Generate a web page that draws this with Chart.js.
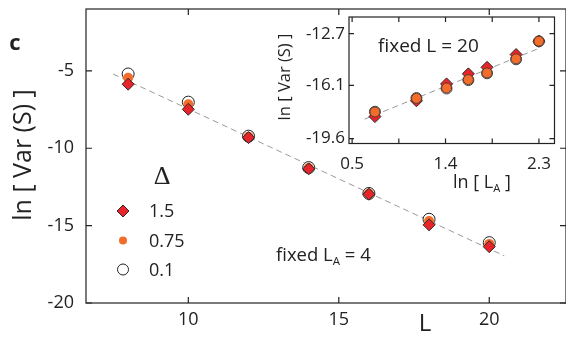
<!DOCTYPE html>
<html>
<head>
<meta charset="utf-8">
<script src="https://cdn.jsdelivr.net/npm/chart.js@4"></script>
<style>
  html, body { margin: 0; padding: 0; background: #fff; overflow: hidden; }
  #wrap { position: relative; width: 566px; height: 338px; overflow: hidden; }
  #mainChart { position: absolute; left: 0; top: 0; }
  #insetChart { position: absolute; left: 260px; top: 0; }
</style>
</head>
<body>
<div id="wrap">
  <canvas id="mainChart" width="580" height="338"></canvas>
  <canvas id="insetChart" width="306" height="200"></canvas>
</div>
<script>
// main panel: fixed L_A = 4
var deltas = ['1.5', '0.75', '0.1'];
var L = [8, 10, 12, 14, 16, 18, 20];
var var15 = [-5.86, -7.48, -9.31, -11.33, -12.97, -14.95, -16.36];
var var075 = [-5.45, -7.15, -9.25, -11.28, -12.93, -14.7, -16.18];
var var01 = [-5.2, -7.02, -9.22, -11.25, -12.92, -14.59, -16.1];
var fitL = [7.5, 20.5];
var fitVar = [-5.2, -16.95];
var xTicks = [10, 15, 20];
var yTicks = [-20, -15, -10, -5];

// inset: fixed L = 20
var lnLA = [0.72, 1.12, 1.41, 1.62, 1.8, 2.08, 2.3];
var inset15 = [-18.15, -17.11, -16.0, -15.34, -14.91, -14.07, -13.19];
var inset075 = [-17.85, -16.95, -16.27, -15.72, -15.28, -14.35, -13.19];
var inset01 = [-17.83, -16.93, -16.3, -15.75, -15.3, -14.38, -13.2];
var insetFitX = [0.62, 2.28];
var insetFitY = [-18.32, -13.72];
var insetXTicks = [0.5, 0.95, 1.4, 1.85, 2.3];
var insetXLabels = ['0.5', '', '1.4', '', '2.3'];
var insetYTicks = [-19.6, -16.1, -12.7];

var FONT = '"Open Sans", "Noto Sans", sans-serif';
var INK = '#222';
var RED = '#e8242a';
var ORANGE = '#f26d2b';

function pts(xs, ys) {
    return xs.map(function (x, i) { return { x: x, y: ys[i] }; });
}

function setTicks(values) {
    return function (scale) {
        scale.ticks = values.map(function (v) { return { value: v }; });
    };
}

// fixed axis size, and no extra room asked for hanging labels
function fixSize(w, h) {
    return function (s) {
        if (w) s.width = w;
        if (h) s.height = h;
        s.paddingTop = 0; s.paddingBottom = 0;
        s.paddingLeft = 0; s.paddingRight = 0;
    };
}

// box round the plot area, with short ticks pointing inwards on all four sides
function framePlugin(tickLen) {
    return {
        id: 'frame',
        beforeDraw: function (chart) {
            if (!chart.options.fillArea) return;
            var a = chart.chartArea, ctx = chart.ctx;
            ctx.save();
            ctx.fillStyle = '#fff';
            ctx.fillRect(a.left, a.top, a.right - a.left, a.bottom - a.top);
            ctx.restore();
        },
        beforeDatasetsDraw: function (chart) {
            var a = chart.chartArea, ctx = chart.ctx;
            var xs = chart.scales.x, ys = chart.scales.y;
            ctx.save();
            ctx.strokeStyle = INK;
            ctx.lineWidth = 1.2;
            ctx.strokeRect(a.left, a.top, a.right - a.left, a.bottom - a.top);
            ctx.beginPath();
            xs.ticks.forEach(function (t) {
                var px = xs.getPixelForValue(t.value);
                ctx.moveTo(px, a.bottom); ctx.lineTo(px, a.bottom - tickLen);
                ctx.moveTo(px, a.top); ctx.lineTo(px, a.top + tickLen);
            });
            ys.ticks.forEach(function (t) {
                var py = ys.getPixelForValue(t.value);
                ctx.moveTo(a.left, py); ctx.lineTo(a.left + tickLen, py);
                ctx.moveTo(a.right, py); ctx.lineTo(a.right - tickLen, py);
            });
            ctx.stroke();
            ctx.restore();
        }
    };
}

// writes text pieces one after another; sub pieces are smaller and lower
function drawRich(ctx, parts, x, y, size) {
    parts.forEach(function (p) {
        var s = p.sub ? size * 0.62 : size;
        ctx.font = s + 'px ' + FONT;
        ctx.fillText(p.t, x, y + (p.sub ? size * 0.3 : 0));
        x += ctx.measureText(p.t).width;
    });
}

function marker(ctx, ds, x, y, r) {
    ctx.save();
    ctx.fillStyle = ds.backgroundColor;
    ctx.strokeStyle = ds.borderColor;
    ctx.lineWidth = ds.borderWidth;
    ctx.beginPath();
    if (ds.pointStyle === 'rectRot') {
        ctx.moveTo(x - r, y); ctx.lineTo(x, y - r); ctx.lineTo(x + r, y); ctx.lineTo(x, y + r);
        ctx.closePath();
    } else {
        ctx.arc(x, y, r, 0, Math.PI * 2);
    }
    ctx.fill();
    if (ds.borderWidth) ctx.stroke();
    ctx.restore();
}

var mainText = {
    id: 'mainText',
    afterDraw: function (chart) {
        var ctx = chart.ctx;
        ctx.save();
        ctx.fillStyle = INK;
        ctx.textBaseline = 'middle';
        ctx.textAlign = 'center';
        ctx.font = 'bold 22px ' + FONT;
        ctx.fillText('c', 15, 44);
        ctx.font = '24px ' + FONT;
        ctx.fillText('L', 425, 324);
        ctx.save();
        ctx.translate(24, 155);
        ctx.rotate(-Math.PI / 2);
        ctx.font = '25px ' + FONT;
        ctx.fillText('ln [ Var (S) ]', 0, 0);
        ctx.restore();

        // legend
        ctx.font = '26px "Liberation Serif", serif';
        ctx.fillText('\u0394', 162, 177);
        ctx.textAlign = 'left';
        var rows = [211, 240.5, 269.5];
        var radii = [6, 4, 5.5];
        deltas.forEach(function (d, i) {
            marker(ctx, chart.data.datasets[i], 123, rows[i], radii[i]);
            ctx.fillStyle = INK;
            ctx.font = '18px ' + FONT;
            ctx.fillText(d, 149, rows[i] + 1);
        });

        drawRich(ctx, [{ t: 'fixed L' }, { t: 'A', sub: true }, { t: ' = 4' }], 276, 256, 18.5);
        ctx.restore();
    }
};

var insetText = {
    id: 'insetText',
    afterDraw: function (chart) {
        var ctx = chart.ctx;
        ctx.save();
        ctx.fillStyle = INK;
        ctx.textBaseline = 'middle';
        ctx.textAlign = 'left';
        drawRich(ctx, [{ t: 'fixed L = 20' }], 118, 47, 19);
        drawRich(ctx, [{ t: 'ln [ L' }, { t: 'A', sub: true }, { t: ' ]' }], 193, 183, 18);
        ctx.translate(25, 77);
        ctx.rotate(-Math.PI / 2);
        ctx.textAlign = 'center';
        ctx.font = '16.5px ' + FONT;
        ctx.fillText('ln [ Var (S) ]', 0, 0);
        ctx.restore();
    }
};

new Chart(document.getElementById('mainChart'), {
    type: 'scatter',
    data: {
        datasets: [{
            label: deltas[0],
            data: pts(L, var15),
            pointStyle: 'rectRot',
            pointRadius: 6,
            backgroundColor: RED,
            borderColor: '#2a2a2a',
            borderWidth: 1
        }, {
            label: deltas[1],
            data: pts(L, var075),
            pointStyle: 'circle',
            pointRadius: 5,
            backgroundColor: ORANGE,
            borderColor: ORANGE,
            borderWidth: 0
        }, {
            label: deltas[2],
            data: pts(L, var01),
            pointStyle: 'circle',
            pointRadius: 6,
            backgroundColor: '#fff',
            borderColor: INK,
            borderWidth: 1
        }, {
            label: 'fit',
            data: pts(fitL, fitVar),
            showLine: true,
            pointRadius: 0,
            borderColor: '#9a9a9a',
            borderWidth: 1,
            borderDash: [6, 4]
        }]
    },
    options: {
        responsive: false,
        animation: false,
        devicePixelRatio: 1,
        layout: { padding: { left: 0, top: 9, right: 14, bottom: 0 } },
        plugins: { legend: { display: false }, tooltip: { enabled: false } },
        scales: {
            x: {
                type: 'linear', min: 6.6, max: 22.55,
                grid: { display: false, drawTicks: false },
                border: { display: false },
                afterBuildTicks: setTicks(xTicks),
                afterFit: fixSize(0, 35),
                ticks: { font: { family: FONT, size: 18 }, color: INK, padding: 6, maxRotation: 0, autoSkip: false }
            },
            y: {
                type: 'linear', min: -20, max: -1,
                grid: { display: false, drawTicks: false },
                border: { display: false },
                afterBuildTicks: setTicks(yTicks),
                afterFit: fixSize(86, 0),
                ticks: { font: { family: FONT, size: 18 }, color: INK, padding: 12, autoSkip: false }
            }
        }
    },
    plugins: [framePlugin(6), mainText]
});

new Chart(document.getElementById('insetChart'), {
    type: 'scatter',
    data: {
        datasets: [{
            label: deltas[1],
            data: pts(lnLA, inset075),
            pointStyle: 'circle',
            pointRadius: 5,
            backgroundColor: ORANGE,
            borderColor: '#5a3a2a',
            borderWidth: 1
        }, {
            label: deltas[0],
            data: pts(lnLA, inset15),
            pointStyle: 'rectRot',
            pointRadius: 6,
            backgroundColor: RED,
            borderColor: '#2a2a2a',
            borderWidth: 1
        }, {
            label: deltas[2],
            data: pts(lnLA, inset01),
            pointStyle: 'circle',
            pointRadius: 5.5,
            backgroundColor: '#fff',
            borderColor: '#444',
            borderWidth: 1
        }, {
            label: 'fit',
            data: pts(insetFitX, insetFitY),
            showLine: true,
            pointRadius: 0,
            borderColor: '#9a9a9a',
            borderWidth: 1,
            borderDash: [6, 4]
        }]
    },
    options: {
        responsive: false,
        animation: false,
        devicePixelRatio: 1,
        fillArea: true,
        layout: { padding: { left: 0, top: 17, right: 11.5, bottom: 0 } },
        plugins: { legend: { display: false }, tooltip: { enabled: false } },
        scales: {
            x: {
                type: 'linear', min: 0.47, max: 2.45,
                grid: { display: false, drawTicks: false },
                border: { display: false },
                afterBuildTicks: setTicks(insetXTicks),
                afterFit: fixSize(0, 56.5),
                ticks: {
                    font: { family: FONT, size: 17 }, color: INK, padding: 10, maxRotation: 0, autoSkip: false,
                    callback: function (v, i) { return insetXLabels[i]; }
                }
            },
            y: {
                type: 'linear', min: -19.92, max: -11.6,
                grid: { display: false, drawTicks: false },
                border: { display: false },
                afterBuildTicks: setTicks(insetYTicks),
                afterFit: fixSize(89, 0),
                ticks: { font: { family: FONT, size: 17 }, color: INK, padding: 4, autoSkip: false }
            }
        }
    },
    plugins: [framePlugin(5), insetText]
});
</script>
</body>
</html>
